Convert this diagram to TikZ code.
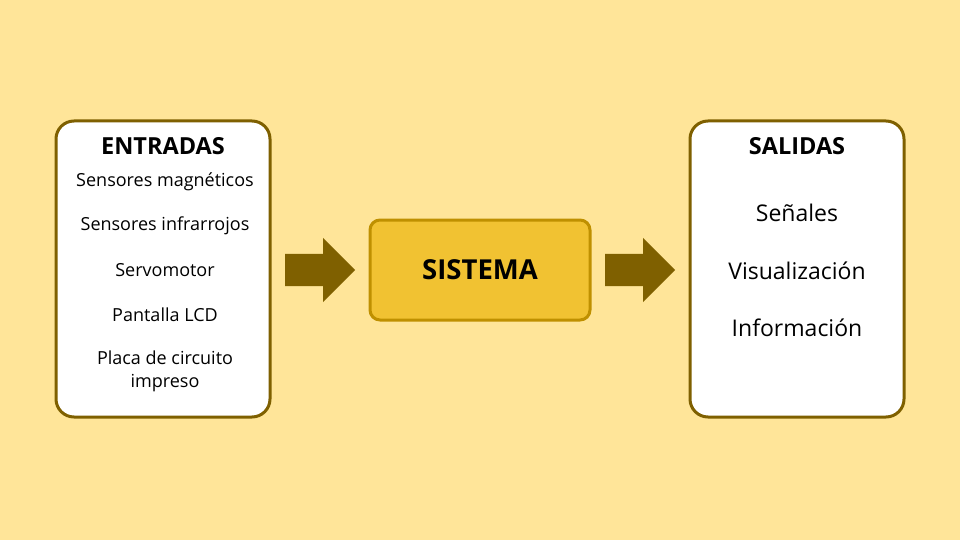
\documentclass[tikz,border=0pt]{standalone}
\usepackage{fontspec}
\setmainfont{Open Sans}
\usetikzlibrary{shapes.arrows}
\definecolor{bg}{HTML}{FFE599}
\definecolor{olive}{HTML}{7F6000}
\definecolor{gold}{HTML}{F1C232}
\definecolor{golddark}{HTML}{BF9000}
\tikzset{
  x=1pt, y=-1pt,
  listbox/.style={draw=olive, line width=3pt, fill=white, rounded corners=18pt,
    minimum width=214pt, minimum height=296pt, inner sep=0pt},
  corebox/.style={draw=golddark, line width=3pt, fill=gold, rounded corners=10pt,
    minimum width=220pt, minimum height=100pt, inner sep=0pt,
    font=\fontsize{27.5}{30}\selectfont\bfseries},
  flowarrow/.style={single arrow, fill=olive, draw=none, inner xsep=0pt, inner ysep=16pt,
    minimum height=70pt, single arrow head extend=16pt, single arrow head indent=0pt,
    shape border rotate=0, anchor=west},
  head/.style={font=\fontsize{23.5}{26}\selectfont\bfseries},
  initem/.style={font=\fontsize{18}{23}\selectfont, align=center},
  outitem/.style={font=\fontsize{23}{26}\selectfont},
}
\begin{document}
\begin{tikzpicture}
  \fill[bg] (0,0) rectangle (960,540);
  \useasboundingbox (0,0) rectangle (960,540);

  % input column
  \node[listbox] (inbox) at (163,269) {};
  \node[head] (inhead) at (163,146) {ENTRADAS};
  \node[initem] (in1) at (165,182) {Sensores magnéticos};
  \node[initem] (in2) at (165,226) {Sensores infrarrojos};
  \node[initem] (in3) at (165,270) {Servomotor};
  \node[initem] (in4) at (165,315) {Pantalla LCD};
  \node[initem] (in5) at (165,371.5) {Placa de circuito\\impreso};

  % processing block
  \node[corebox] (core) at (480,270) {SISTEMA};

  % output column
  \node[listbox] (outbox) at (797,269) {};
  \node[head] (outhead) at (797,146) {SALIDAS};
  \node[outitem] (out1) at (797,213) {Señales};
  \node[outitem] (out2) at (797,271) {Visualización};
  \node[outitem] (out3) at (797,328) {Información};

  % flow arrows
  \node[flowarrow] (arrin) at (285,270) {};
  \node[flowarrow] (arrout) at (605,270) {};
\end{tikzpicture}
\end{document}
